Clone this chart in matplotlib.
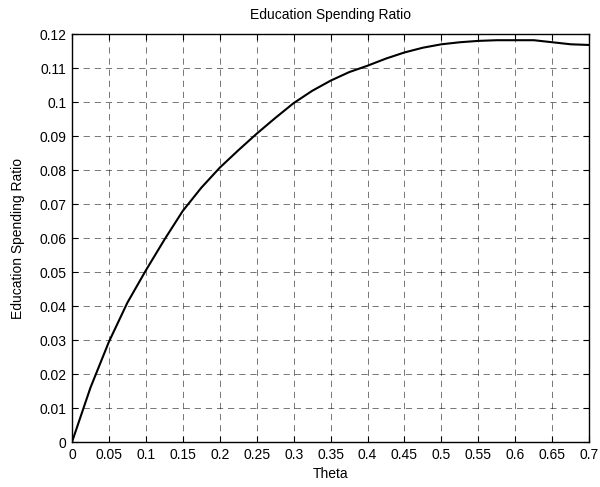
import matplotlib
matplotlib.use("Agg")
import matplotlib.pyplot as plt
import numpy as np

plt.rcParams['font.family'] = ['Liberation Sans', 'DejaVu Sans']
plt.rcParams['lines.scale_dashes'] = False

# values
theta = [0.0, 0.025, 0.05, 0.075, 0.1, 0.125, 0.15, 0.175, 0.2, 0.225,
         0.25, 0.275, 0.3, 0.325, 0.35, 0.375, 0.4, 0.425, 0.45, 0.475,
         0.5, 0.525, 0.55, 0.575, 0.6, 0.625, 0.65, 0.675, 0.7]
ratio = [0.0, 0.016, 0.0295, 0.041, 0.0505, 0.0595, 0.068, 0.0748, 0.0807, 0.0858,
         0.0907, 0.0953, 0.0997, 0.1033, 0.1063, 0.1088, 0.1107, 0.1128, 0.1146, 0.116,
         0.117, 0.1176, 0.118, 0.1182, 0.1182, 0.1182, 0.1176, 0.117, 0.1168]

xticks = np.arange(0, 0.701, 0.05)
yticks = np.arange(0, 0.1201, 0.01)
xlabels = ['0', '0.05', '0.1', '0.15', '0.2', '0.25', '0.3', '0.35', '0.4',
           '0.45', '0.5', '0.55', '0.6', '0.65', '0.7']
ylabels = ['0', '0.01', '0.02', '0.03', '0.04', '0.05', '0.06', '0.07', '0.08',
           '0.09', '0.1', '0.11', '0.12']

fig = plt.figure(figsize=(6.0, 4.87), dpi=100)
ax = fig.add_axes([0.12, 0.0924, 0.862, 0.8376])

ax.plot(theta, ratio, color='black', linewidth=1.5)

ax.set_xlim(0, 0.7)
ax.set_ylim(0, 0.12)
ax.set_xticks(xticks)
ax.set_xticklabels(xlabels)
ax.set_yticks(yticks)
ax.set_yticklabels(ylabels)

ax.grid(True, color='black', linewidth=0.5, linestyle=(0, (4.5, 3.5)), alpha=0.75)
ax.tick_params(direction='in', length=4, width=0.8, top=True, right=True,
               labelsize=10, pad=4)
for s in ax.spines.values():
    s.set_linewidth(1.0)

ax.set_title('Education Spending Ratio', fontsize=10, pad=11)
ax.set_xlabel('Theta', fontsize=10, labelpad=4)
ax.set_ylabel('Education Spending Ratio', fontsize=10, labelpad=10)

fig.savefig('out.png', dpi=100)
